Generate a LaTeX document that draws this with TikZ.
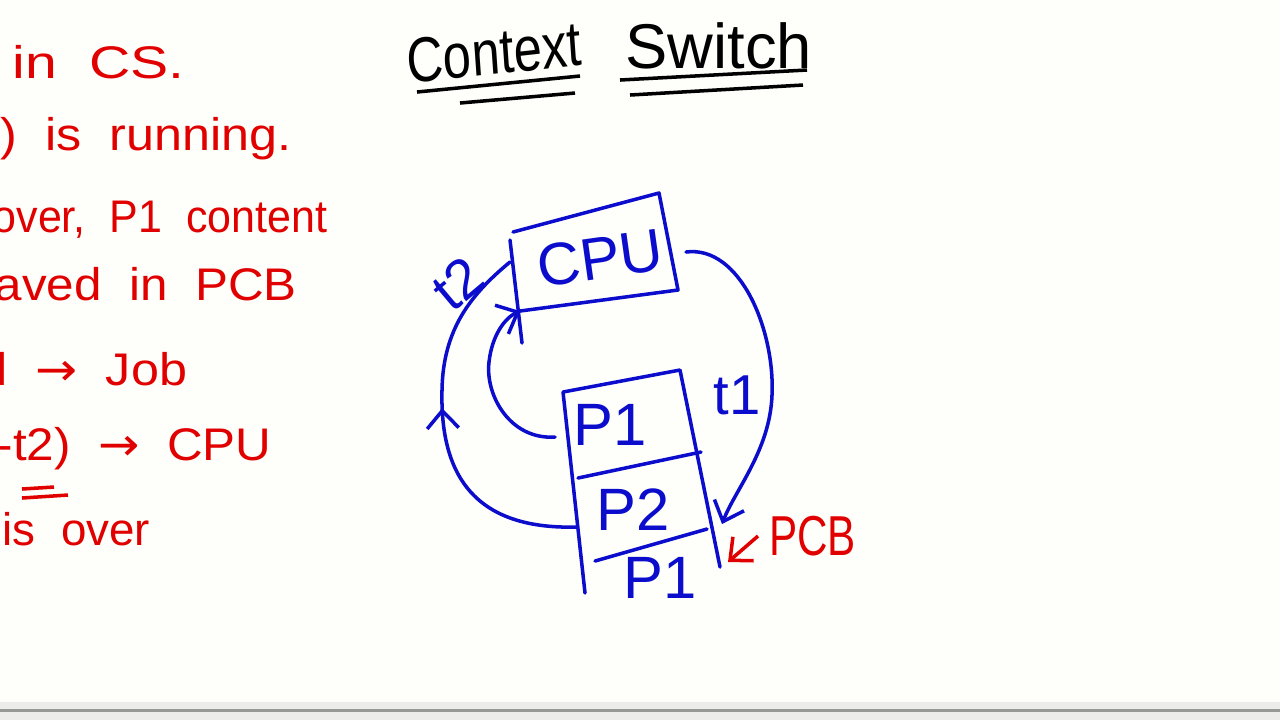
\documentclass[tikz,border=0pt]{standalone}
\usepackage{fontspec}
\setmainfont{Liberation Sans}[WordSpace=2]
\newfontfamily\arrowfont{DejaVu Sans}
\usetikzlibrary{arrows.meta,decorations.markings}

\definecolor{ink}{RGB}{12,12,205}
\definecolor{redink}{RGB}{225,0,0}
\definecolor{paper}{RGB}{254,255,250}
\definecolor{barbg}{RGB}{236,237,234}
\definecolor{barline}{RGB}{150,152,150}

\begin{document}
\begin{tikzpicture}[x=0.01cm,y=-0.01cm]
	\tikzset{note/.style={text=redink,anchor=base west,inner sep=0pt,font=\fontsize{13}{15}\selectfont},
		lbl/.style={text=ink,inner sep=0pt,font=\fontsize{17}{20}\selectfont},
		wire/.style={draw=ink,line width=1pt,line cap=round,line join=round},
		>={Straight Barb[length=5pt,width=9pt]}}
	\useasboundingbox (0,0) rectangle (1280,720);
	\fill[paper] (0,0) rectangle (1280,702);
	\fill[barbg] (0,702) rectangle (1280,720);
	\fill[barline] (0,709) rectangle (1280,712);
	% title
	\node[anchor=base west,inner sep=0pt,xscale=0.8,rotate=5,font=\fontsize{18}{20}\selectfont] (ctx) at (408,84) {Context};
	\node[anchor=base west,inner sep=0pt,font=\fontsize{18}{20}\selectfont] (sw) at (625,68) {Switch};
	\draw[line width=1pt] (417,92) -- (580,76) (460,103) -- (575,93);
	\draw[line width=1pt] (620,80) -- (807,70) (630,95) -- (803,85);
	% notes on the left
	\node[note,xscale=1.25] (l1) at (12,78) {in CS.};
	\node[note,xscale=1.1] (l2) at (0,150) {) is running.};
	\node[note,xscale=0.94] (l3) at (-8,232) {over, P1 content};
	\node[note,xscale=1.08] (l4) at (-6,300) {aved in PCB};
	\node[note,xscale=1.1] (l5) at (-4,385) {l {\arrowfont →} Job};
	\node[note,xscale=1.08] (l6) at (-4,460) {-t2) {\arrowfont →} CPU};
	\draw[redink,line width=1pt] (22,489) -- (54,487) (22,498) -- (68,495);
	\node[note] (l7) at (2,545) {is over};
	% cpu
	\coordinate (cpunw) at (513,232);
	\coordinate (cpune) at (659,193);
	\coordinate (cpuse) at (678,290);
	\coordinate (cpusw) at (520,311);
	\draw[wire] (510,240) -- (522,343);
	\draw[wire] (cpunw) -- (cpune) -- (cpuse) -- (cpusw);
	\node[lbl,rotate=8] (cpu) at (600,258) {CPU};
	% process stack
	\coordinate (stknw) at (563,392);
	\coordinate (stkne) at (680,370);
	\coordinate (stkse) at (720,567);
	\coordinate (stksw) at (585,593);
	\draw[wire] (stksw) -- (stknw) -- (stkne) -- (stkse);
	\draw[wire] (578,478) -- (701,452);
	\draw[wire] (595,561) -- (707,529);
	\node[lbl] (p1) at (610,425) {P1};
	\node[lbl] (p2) at (633,510) {P2};
	\node[lbl] (p1b) at (660,578) {P1};
	% switching
	\coordinate (p1w) at (555,437);
	\coordinate (p2w) at (577,527);
	\coordinate (cpuw) at (510,262);
	\coordinate (cpue) at (686,252);
	\coordinate (stke) at (722,524);
	\draw[wire,->] (p1w) .. controls (510,440) and (485,395) .. (489,362) .. controls (492,335) and (505,318) .. (cpusw);
	\draw[wire,postaction={decorate},decoration={markings,mark=at position 0.55 with {\arrow{>}}}]
		(p2w) .. controls (470,530) and (440,470) .. (442,390) .. controls (443,330) and (470,295) .. (cpuw);
	\draw[wire,->] (cpue) .. controls (740,245) and (775,330) .. (772,395) .. controls (770,450) and (735,490) .. (stke);
	\node[lbl,font=\fontsize{16}{18}\selectfont] (t1) at (737,395) {t1};
	\node[lbl,rotate=40,font=\fontsize{16}{18}\selectfont] (t2) at (458,284) {t2};
	% pcb
	\node[text=redink,anchor=west,inner sep=4pt,xscale=0.75,font=\fontsize{16}{18}\selectfont] (pcb) at (758,536) {PCB};
	\coordinate (pcbtip) at (728,562);
	\draw[redink,line width=1pt,->] (pcb.west) -- (pcbtip);
\end{tikzpicture}
\end{document}
